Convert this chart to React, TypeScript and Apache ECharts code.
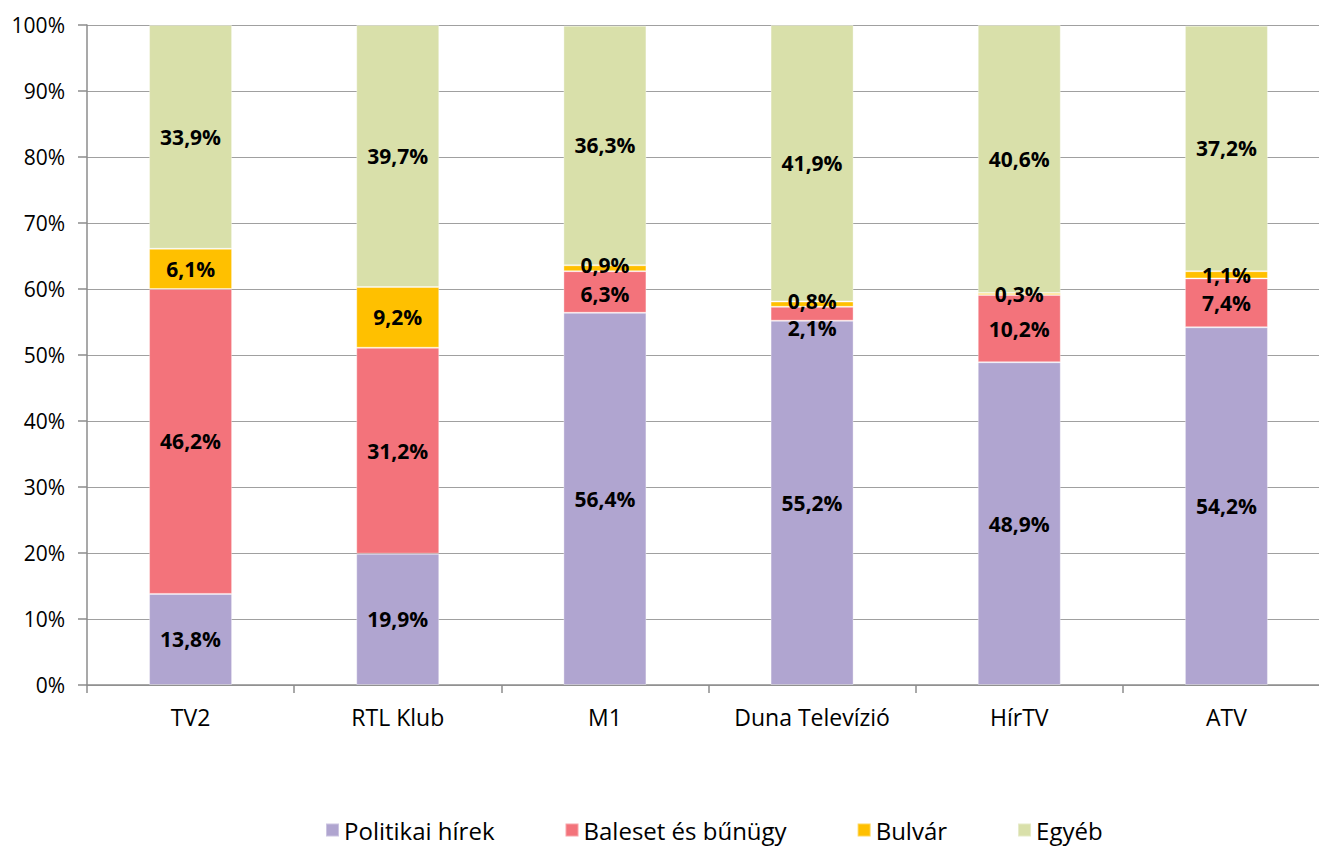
import React, { useEffect, useRef } from "react";
import * as echarts from "echarts";

const categories = ["TV2", "RTL Klub", "M1", "Duna Televízió", "HírTV", "ATV"];
const seriesNames = ["Politikai hírek", "Baleset és bűnügy", "Bulvár", "Egyéb"];
const politikai = [13.8, 19.9, 56.4, 55.2, 48.9, 54.2];
const baleset = [46.2, 31.2, 6.3, 2.1, 10.2, 7.4];
const bulvar = [6.1, 9.2, 0.9, 0.8, 0.3, 1.1];
const egyeb = [33.9, 39.7, 36.3, 41.9, 40.6, 37.2];
const colors = ["#B0A5D0", "#F3737B", "#FFC000", "#D9E0AA"];
const yTicks = [0, 10, 20, 30, 40, 50, 60, 70, 80, 90, 100];

const FONT = "'Open Sans', 'Noto Sans', sans-serif";

export default function App() {
  const ref = useRef<HTMLDivElement>(null);
  useEffect(() => {
    if (!ref.current) return;
    const chart = echarts.init(ref.current, null, { renderer: "svg" });
    const values = [politikai, baleset, bulvar, egyeb];
    const fmt = (v: number) => v.toFixed(1).replace(".", ",") + "%";
    const series = values.map((arr, si) => ({
      name: seriesNames[si],
      type: "bar",
      stack: "total",
      barWidth: 83,
      itemStyle: { color: colors[si], borderColor: "rgba(255,255,255,0.35)", borderWidth: 1 },
      label: {
        show: true,
        position: "inside",
        color: "#000",
        fontFamily: FONT,
        fontWeight: "bold",
        fontSize: 21,
        lineHeight: 19,
        formatter: (p: any) => fmt(p.value as number),
      },
      data: arr.map((v, ci) => {
        // nudge labels of thin neighbouring segments apart, as in the source
        if (si === 1 && v < 7) return { value: v, label: { offset: [0, v < 3 ? 14 : 2] } };
        if (si === 2 && baleset[ci] < 7) return { value: v, label: { offset: [0, -3] } };
        return v;
      }),
    }));
    chart.setOption({
      animation: false,
      grid: { left: 87, right: 10, top: 25, bottom: 162, containLabel: false },
      legend: {
        bottom: 0,
        left: 320,
        itemWidth: 13,
        itemHeight: 13,
        itemGap: 70,
        icon: "rect",
        textStyle: { fontFamily: FONT, fontSize: 24, color: "#000" },
        data: seriesNames,
      },
      xAxis: {
        type: "category",
        data: categories,
        axisLine: { lineStyle: { color: "#8c8c8c", width: 1.5 } },
        axisTick: { show: true, interval: 0, length: 8, lineStyle: { color: "#8c8c8c", width: 1.5 } },
        axisLabel: { interval: 0, fontFamily: FONT, fontSize: 23, color: "#000", margin: 20 },
      },
      yAxis: {
        type: "value",
        min: yTicks[0],
        max: yTicks[yTicks.length - 1],
        interval: 10,
        axisLine: { show: true, lineStyle: { color: "#8c8c8c", width: 1.5 } },
        axisTick: { show: true, length: 9, lineStyle: { color: "#8c8c8c", width: 1.5 } },
        splitLine: { lineStyle: { color: "#a0a0a0", width: 1.2 } },
        axisLabel: { fontFamily: FONT, fontSize: 21, color: "#000", margin: 22, formatter: "{value}%" },
      },
      series,
    });
    return () => chart.dispose();
  }, []);
  return (
    <div style={{ position: "fixed", left: 0, top: 0, width: 1319, height: 847, overflow: "hidden", background: "#fff" }}>
      <div ref={ref} style={{ width: 1340, height: 847 }} />
    </div>
  );
}
